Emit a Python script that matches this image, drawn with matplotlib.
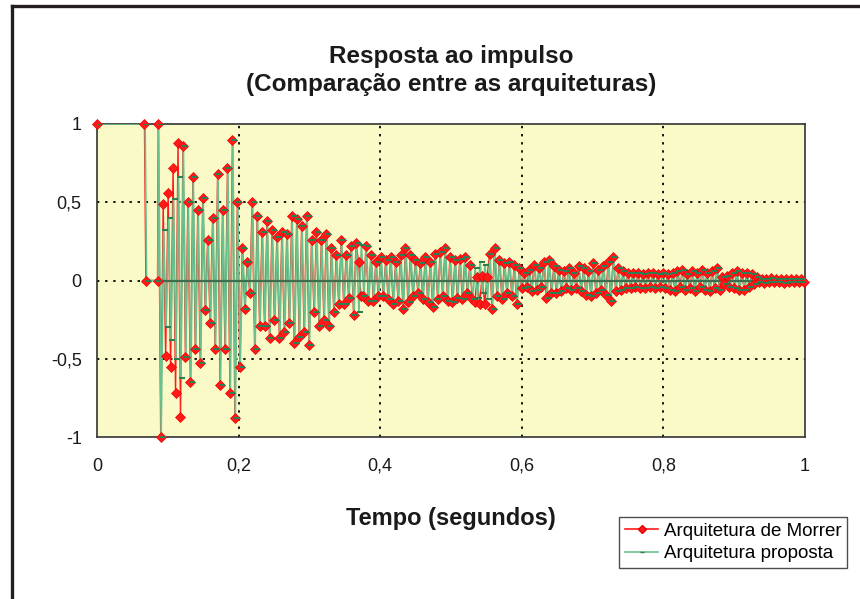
import numpy as np
import matplotlib.pyplot as plt
from matplotlib.lines import Line2D

plt.rcParams['font.family'] = ['Liberation Sans', 'DejaVu Sans']

# trecho inicial (antes da oscilacao)
morrer_ini_t = [0.0, 0.067, 0.069, 0.0855]
morrer_ini_v = [1.0, 1.0, 0.0, 0.0]
proposta_ini_t = [0.0, 0.068, 0.070, 0.0860]
proposta_ini_v = [1.0, 1.0, 0.0, 0.0]

# primeiras amostras da oscilacao (0,086 s em diante), diferentes nas duas arquiteturas
morrer_osc = [1.0, -1.0, 0.49, -0.48, 0.56, -0.55, 0.72, -0.72, 0.88, -0.87, 0.86, -0.49, 0.50]
proposta_osc = [1.0, -1.0, 0.32, -0.30, 0.40, -0.38, 0.52, -0.50, 0.66, -0.62, 0.86, -0.49, 0.50]

# amostras seguintes, iguais nas duas curvas
resposta = [
    -0.65, 0.66, -0.44, 0.45, -0.53, 0.53, -0.19, 0.26, -0.27, 0.40,
    -0.44, 0.68, -0.67, 0.45, -0.44, 0.72, -0.72, 0.90, -0.88, 0.50,
    -0.55, 0.21, -0.18, 0.12, -0.08, 0.50, -0.44, 0.41, -0.29, 0.31,
    -0.29, 0.38, -0.37, 0.32, -0.25, 0.28, -0.37, 0.31, -0.33, 0.30,
    -0.27, 0.41, -0.40, 0.39, -0.36, 0.35, -0.33, 0.41, -0.41, 0.26,
    -0.20, 0.31, -0.29, 0.26, -0.25, 0.30, -0.29, 0.21, -0.20, 0.16,
    -0.15, 0.26, -0.15, 0.16, -0.11, 0.22, -0.22, 0.24, -0.20, 0.23,
    -0.10, 0.22, -0.13, 0.16, -0.13, 0.12, -0.10, 0.15, -0.10,
    0.13, -0.12, 0.15, -0.15, 0.12, -0.13, 0.16, -0.18, 0.21, -0.14,
    0.16, -0.10, 0.13, -0.08, 0.11, -0.12, 0.15, -0.14, 0.12, -0.17,
    0.17, -0.12, 0.18, -0.10, 0.21, -0.13, 0.15, -0.14, 0.13, -0.11,
    0.14, -0.12, 0.15, -0.08, 0.10, -0.12, 0.08, -0.11, 0.12, -0.08,
    0.10, -0.12, 0.17, -0.18, 0.21, -0.10, 0.13, -0.12, 0.11, -0.08,
    0.12, -0.10, 0.10, -0.15, 0.08, -0.05, 0.05, -0.04, 0.07, -0.07,
    0.10, -0.06, 0.08, -0.04, 0.12, -0.11, 0.13,
    -0.08, 0.09, -0.08, 0.07, -0.07, 0.06, -0.05, 0.08, -0.06, 0.05,
    -0.05, 0.09, -0.07, 0.08, -0.09, 0.06, -0.10, 0.11, -0.08, 0.07,
    -0.06, 0.09, -0.09, 0.12, -0.13, 0.15, -0.07, 0.08, -0.06, 0.06,
    -0.05, 0.05, -0.05, 0.05, -0.04, 0.05, -0.05, 0.04, -0.05, 0.05,
    -0.04, 0.05, -0.05, 0.04, -0.04, 0.05, -0.05, 0.04,
    -0.06, 0.05, -0.07, 0.06, -0.04, 0.07, -0.06, 0.04, -0.05, 0.06,
    -0.07, 0.05, -0.04, 0.07, -0.06, 0.05, -0.07, 0.06, -0.05, 0.08,
    -0.06, 0.02, -0.02, 0.03, -0.04, 0.05, -0.05, 0.06, -0.06, 0.05,
    -0.06, 0.05, -0.04, 0.04, -0.02, 0.02,
    -0.01, 0.01, -0.015, 0.01, -0.01, 0.015, -0.01, 0.01, -0.01, 0.01,
    -0.015, 0.01, -0.01, 0.01, -0.01, 0.01, -0.01, 0.01, -0.01,
]
t_osc_ini, t_osc_fim = 0.0865, 0.998

# amostras (indice na oscilacao, valor) em que a curva de Morrer se afasta da proposta
morrer_dif_idx = [81, 82, 128, 129, 130, 131, 132, 133]
morrer_dif_val = [0.12, -0.10, -0.14, 0.02, -0.15, 0.03, -0.15, 0.02]

xticks = [0, 0.2, 0.4, 0.6, 0.8, 1]
xtick_labels = ['0', '0,2', '0,4', '0,6', '0,8', '1']
yticks = [-1, -0.5, 0, 0.5, 1]
ytick_labels = ['-1', '-0,5', '0', '0,5', '1']

morrer_v_osc = np.array(morrer_osc + resposta, dtype=float)
morrer_v_osc[morrer_dif_idx] = morrer_dif_val
proposta_v_osc = np.array(proposta_osc + resposta, dtype=float)

t_osc = np.linspace(t_osc_ini, t_osc_fim, len(morrer_v_osc))
t_m = np.concatenate([morrer_ini_t, t_osc])
v_m = np.concatenate([morrer_ini_v, morrer_v_osc])
t_p = np.concatenate([proposta_ini_t, t_osc + 0.0006])
v_p = np.concatenate([proposta_ini_v, proposta_v_osc])

vermelho = '#ff1a1a'
verde = '#6cbf8e'
verde_esc = '#2f7d52'

fig = plt.figure(figsize=(8.6, 5.99), dpi=100)
ax = fig.add_axes([97/860, 1-437/599, 708/860, 313/599])
ax.set_facecolor('#fafac8')

ax.plot(t_m, v_m, color=vermelho, lw=1.0, zorder=2)
ax.plot(t_p, v_p, color=verde, lw=1.2, zorder=3)
ax.plot([t_osc[0], t_osc[-1]], [0, 0], color='#3f6e4f', lw=1.6, zorder=3.5)
ax.plot(t_m, v_m, ls='none', marker='D', ms=4.6, mfc='#ff1a1a', mec='#f00000',
        mew=0.5, zorder=4, clip_on=False)
ax.plot(t_p + 0.002, v_p, ls='none', marker='_', ms=4, mec=verde_esc, mew=1.5, zorder=5)

ax.set_xlim(0, 1)
ax.set_ylim(-1, 1)
ax.set_xticks(xticks)
ax.set_xticklabels(xtick_labels)
ax.set_yticks(yticks)
ax.set_yticklabels(ytick_labels)
ax.tick_params(length=0, labelsize=13, colors='#1a1a1a')
ax.tick_params(axis='x', pad=15)
ax.tick_params(axis='y', pad=11)
for g in [0.2, 0.4, 0.6, 0.8]:
    ax.axvline(g, color='black', lw=1.3, ls=(0, (1.3, 3.2)), zorder=1)
for g in [-0.5, 0, 0.5]:
    ax.axhline(g, color='black', lw=1.3, ls=(0, (1.3, 3.2)), zorder=1)
for s in ax.spines.values():
    s.set_color('#333333')
    s.set_linewidth(1.2)

fig.text(451/860, 1-57/599, 'Resposta ao impulso', ha='center', va='center',
         fontsize=17.5, fontweight='bold', color='#1a1a1a')
fig.text(451/860, 1-85/599, '(Comparação entre as arquiteturas)', ha='center', va='center',
         fontsize=17.5, fontweight='bold', color='#1a1a1a')
fig.text(451/860, 1-518/599, 'Tempo (segundos)', ha='center', va='center',
         fontsize=17, fontweight='bold', color='#1a1a1a')

# moldura da figura (esquerda e topo)
fig.add_artist(Line2D([12/860, 12/860], [0, 1-6/599], transform=fig.transFigure,
                      color='#231f20', lw=2.4))
fig.add_artist(Line2D([12/860, 1], [1-6/599, 1-6/599], transform=fig.transFigure,
                      color='#231f20', lw=2.4))

handles = [Line2D([], [], color=vermelho, lw=1.2, marker='D', ms=4, mfc='#ff1a1a', mec='#e00000'),
           Line2D([], [], color=verde, lw=1.2, marker='_', ms=3, mec=verde_esc)]
leg = fig.legend(handles, ['Arquitetura de Morrer', 'Arquitetura proposta'],
                 loc='lower left', bbox_to_anchor=(619/860, 1-568/599),
                 fontsize=13.5, frameon=True, fancybox=False, handlelength=1.8,
                 handletextpad=0.3, borderpad=0.3, labelspacing=0.3, borderaxespad=0)
leg.get_frame().set_edgecolor('#222222')
leg.get_frame().set_linewidth(1.0)

fig.savefig('out.png', dpi=100)
